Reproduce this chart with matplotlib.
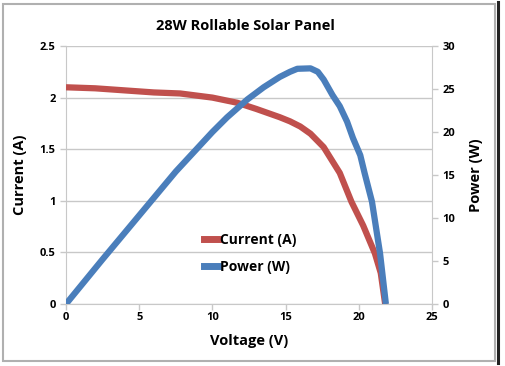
import matplotlib.pyplot as plt
from matplotlib.patches import Rectangle
from matplotlib.lines import Line2D

plt.rcParams['font.family'] = ['Open Sans', 'DejaVu Sans']
plt.rcParams['font.weight'] = 'bold'

# current curve (voltage V, current A)
v_current = [0, 2, 4, 6, 7.8, 10, 11.7, 13, 14.6, 15.3, 16, 16.7, 17.6, 18.7, 19.5, 20.3, 21.1, 21.5, 21.8]
current = [2.10, 2.09, 2.07, 2.05, 2.04, 2.00, 1.95, 1.89, 1.81, 1.77, 1.72, 1.65, 1.52, 1.27, 0.99, 0.76, 0.49, 0.30, 0.0]

# power curve (voltage V, power W)
v_power = [0, 2.5, 5, 7.5, 10, 11, 12.4, 13.5, 14.6, 15.3, 15.8, 16.7, 17.2, 17.6, 18.2, 18.7, 19.2, 19.6, 20.1, 20.4, 20.9, 21.45, 21.85]
power = [0, 5.2, 10.3, 15.4, 20.0, 21.7, 23.8, 25.2, 26.4, 27.0, 27.35, 27.4, 27.0, 26.1, 24.3, 23.0, 21.2, 19.3, 17.3, 15.2, 11.9, 5.9, 0]

red = '#c0504d'
blue = '#4a7ebb'
grid = '#c8c8c8'

fig = plt.figure(figsize=(5.05, 3.66), dpi=100)
ax = fig.add_axes([66 / 505, 1 - 304 / 366, 366 / 505, 258 / 366])
ax2 = ax.twinx()

ax.plot(v_current, current, color=red, lw=4.5, solid_capstyle='butt', zorder=3)
ax2.plot(v_power, power, color=blue, lw=4.5, solid_capstyle='butt', zorder=3)

ax.set_xlim(0, 25)
ax.set_ylim(0, 2.5)
ax2.set_ylim(0, 30)
ax.set_xticks([0, 5, 10, 15, 20, 25])
ax.set_yticks([0, 0.5, 1, 1.5, 2, 2.5])
ax.set_yticklabels(['0', '0.5', '1', '1.5', '2', '2.5'])
ax2.set_yticks([0, 5, 10, 15, 20, 25, 30])
ax.yaxis.grid(True, color=grid, lw=1)
ax.set_axisbelow(True)

for a in (ax, ax2):
    for s in a.spines.values():
        s.set_visible(False)
    a.tick_params(labelsize=8, length=4, color=grid, width=1)
    for t in a.get_xticklabels() + a.get_yticklabels():
        t.set_fontweight('bold')
ax.spines['left'].set_visible(True)
ax.spines['left'].set_color(grid)
ax2.spines['right'].set_visible(True)
ax2.spines['right'].set_color(grid)
ax.spines['bottom'].set_visible(True)
ax.spines['bottom'].set_color(grid)
ax.tick_params(axis='x', length=4, pad=2)

ax.set_xlabel('Voltage (V)', fontsize=10.5, fontweight='bold', labelpad=8)
ax.set_ylabel('Current (A)', fontsize=10.5, fontweight='bold', labelpad=9)
ax2.set_ylabel('Power (W)', fontsize=10.5, fontweight='bold', labelpad=10)
fig.text(245 / 505, 1 - 26 / 366, '28W Rollable Solar Panel', ha='center', va='center',
         fontsize=10.5, fontweight='bold')

handles = [Line2D([], [], color=red, lw=5), Line2D([], [], color=blue, lw=5)]
ax.legend(handles, ['Current (A)', 'Power (W)'], loc='center left',
          bbox_to_anchor=(0.378, 0.196), frameon=False, fontsize=10,
          handlelength=0.95, handletextpad=0.15, labelspacing=0.9,
          borderpad=0, borderaxespad=0)

# outer frame
fig.patches.append(Rectangle((3 / 505, 1 - 361 / 366), 492 / 505, 357 / 366,
                             transform=fig.transFigure, fill=False,
                             edgecolor='#b0b0b0', lw=1.5))
fig.lines.append(Line2D([497.5 / 505, 497.5 / 505], [1 - 363 / 366, 1 - 2 / 366],
                        transform=fig.transFigure, color='#222222', lw=2.2))

fig.savefig('out.png', dpi=100)
